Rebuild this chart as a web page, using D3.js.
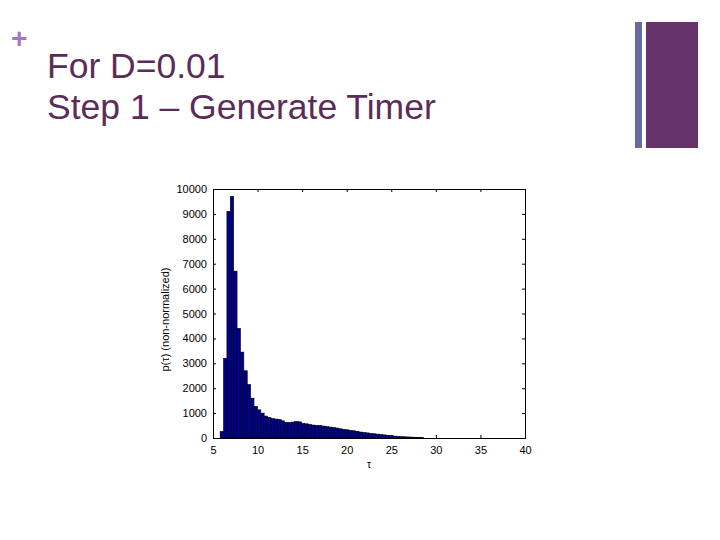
<!DOCTYPE html>
<html>
<head>
<meta charset="utf-8">
<script src="https://cdn.jsdelivr.net/npm/d3@7"></script>
<style>
  body { margin: 0; background: #fff; }
  svg { display: block; font-family: Arial, "Liberation Sans", sans-serif; }
</style>
</head>
<body>
<svg id="chart" width="720" height="540"></svg>
<script>
// histogram bins: left edge of first bin and bin width (tau units)
const binStart = 5.8;
const binWidth = 0.38;
const counts = [
  260, 3200, 9100, 9700, 6700, 4400, 3450, 2700, 2150, 1600,
  1270, 1130, 1000, 880, 830, 780, 760, 750, 690, 630,
  620, 640, 660, 650, 590, 570, 540, 520, 510, 500,
  480, 460, 440, 420, 400, 370, 350, 330, 310, 290,
  270, 240, 220, 205, 185, 170, 155, 140, 125, 110,
  95, 80, 65, 55, 48, 42, 36, 30, 25, 15
];
const xTicks = [5, 10, 15, 20, 25, 30, 35, 40];
const yTicks = [0, 1000, 2000, 3000, 4000, 5000, 6000, 7000, 8000, 9000, 10000];
const titleLines = ['For D=0.01', 'Step 1 \u2013 Generate Timer'];

const svg = d3.select('#chart');

// slide decoration
svg.append('text')
  .attr('x', 11).attr('y', 48)
  .attr('font-size', 28).attr('font-weight', 'bold')
  .attr('fill', '#a774c4')
  .text('+');

svg.selectAll('.title')
  .data(titleLines)
  .enter().append('text')
  .attr('class', 'title')
  .attr('x', 47)
  .attr('y', (d, i) => 78 + i * 41)
  .attr('font-size', 35.5)
  .attr('fill', '#5a2d58')
  .text(d => d);

svg.append('rect')
  .attr('x', 635).attr('y', 22).attr('width', 7).attr('height', 126)
  .attr('fill', '#6a6aa0');
svg.append('rect')
  .attr('x', 646).attr('y', 22).attr('width', 52).attr('height', 126)
  .attr('fill', '#66336a');

// plot area
const plot = { left: 213, right: 525, top: 189, bottom: 438 };

const x = d3.scaleLinear().domain([5, 40]).range([plot.left, plot.right]);
const y = d3.scaleLinear().domain([0, 10000]).range([plot.bottom, plot.top]);

const bins = counts.map((c, i) => ({ x0: binStart + i * binWidth, x1: binStart + (i + 1) * binWidth, c: c }));

svg.append('g')
  .selectAll('rect')
  .data(bins)
  .enter().append('rect')
  .attr('x', d => x(d.x0))
  .attr('y', d => y(d.c))
  .attr('width', d => x(d.x1) - x(d.x0))
  .attr('height', d => y(0) - y(d.c))
  .attr('fill', '#00008f')
  .attr('stroke', '#000')
  .attr('stroke-width', 0.6);

// axes, MATLAB style: ticks inward, mirrored on top/right
const tick = 3;
const bottomAxis = svg.append('g')
  .attr('transform', `translate(0,${plot.bottom})`)
  .call(d3.axisBottom(x).tickValues(xTicks).tickSize(-tick).tickPadding(8));
const topAxis = svg.append('g')
  .attr('transform', `translate(0,${plot.top})`)
  .call(d3.axisTop(x).tickValues(xTicks).tickSize(-tick).tickFormat(''));
const leftAxis = svg.append('g')
  .attr('transform', `translate(${plot.left},0)`)
  .call(d3.axisLeft(y).tickValues(yTicks).tickSize(-tick).tickPadding(6).tickFormat(d3.format('d')));
const rightAxis = svg.append('g')
  .attr('transform', `translate(${plot.right},0)`)
  .call(d3.axisRight(y).tickValues(yTicks).tickSize(-tick).tickFormat(''));

[bottomAxis, topAxis, leftAxis, rightAxis].forEach(a => {
  a.select('.domain').attr('stroke', '#000').attr('stroke-width', 1);
  a.selectAll('.tick line').attr('stroke', '#000');
  a.selectAll('text').attr('font-size', 11).attr('fill', '#000')
    .attr('font-family', 'Arial, "Liberation Sans", sans-serif');
});

// axis labels
svg.append('text')
  .attr('transform', `translate(169,${(plot.top + plot.bottom) / 2 + 6}) rotate(-90)`)
  .attr('text-anchor', 'middle')
  .attr('font-size', 11)
  .text('p(\u03c4) (non-normalized)');

svg.append('text')
  .attr('x', (plot.left + plot.right) / 2)
  .attr('y', 468)
  .attr('text-anchor', 'middle')
  .attr('font-size', 10)
  .text('\u03c4');
</script>
</body>
</html>
